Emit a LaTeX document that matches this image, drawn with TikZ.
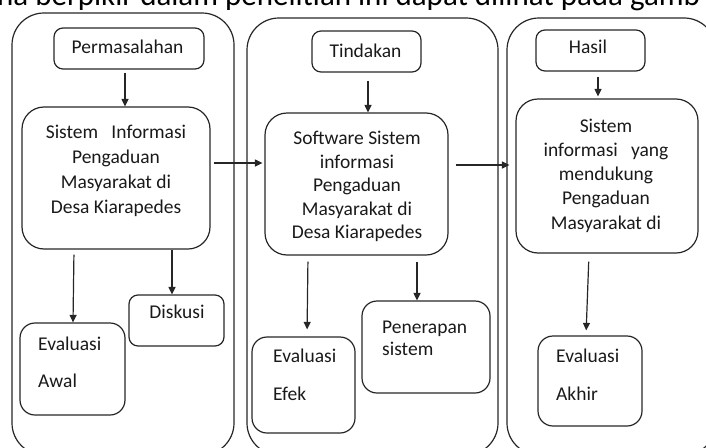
\documentclass[tikz,border=0pt]{standalone}
\usepackage{fontspec}
\setmainfont{Carlito}
\usetikzlibrary{arrows.meta}
\begin{document}
\begin{tikzpicture}[x=1pt,y=-1pt,
  ink/.style={draw=black!85, line width=1.2pt},
  container/.style={ink, rounded corners=32pt, inner sep=0pt},
  smallbox/.style={ink, rounded corners=9pt, inner sep=0pt},
  midbox/.style={ink, rounded corners=15pt, inner sep=0pt},
  bigbox/.style={ink, rounded corners=22pt, inner sep=0pt},
  txt/.style={inner sep=0pt, text=black!90, font=\fontsize{19.5}{24}\selectfont},
  flow/.style={ink, -{Triangle[length=7.5pt,width=7pt]}},
]
\useasboundingbox (0,0) rectangle (706,447);
\clip (0,0) rectangle (706,447);

% caption line cut off at the top
\node[inner sep=0pt, anchor=base west, text=black, font=\fontsize{31}{36}\selectfont] (caption) at (-3,5.5) {na berpikir dalam penelitian ini dapat dilihat pada gamb};

% columns
\node[container, minimum width=222pt, minimum height=442pt] (c1) at (123,234) {};
\node[container, minimum width=251pt, minimum height=437pt] (c2) at (372.5,236.5) {};
\node[container, minimum width=209pt, minimum height=437pt] (c3) at (611.5,236.5) {};

% headers
\node[smallbox, minimum width=150pt, minimum height=41pt] (perm) at (129,48.5) {};
\node[txt, anchor=base] (permt) at (127.5,53) {Permasalahan};
\node[smallbox, minimum width=109pt, minimum height=41pt] (tind) at (366.5,51.5) {};
\node[txt, anchor=base] (tindt) at (365.5,57) {Tindakan};
\node[smallbox, minimum width=109pt, minimum height=41pt] (hasil) at (590.5,50.5) {};
\node[txt, anchor=base] (hasilt) at (588,53) {Hasil};

% main boxes
\node[bigbox, minimum width=188pt, minimum height=142pt] (sim1) at (116,178) {};
\node[txt, align=center, font=\fontsize{19.5}{25}\selectfont] (sim1t) at (116,170.5)
  {Sistem\ \ \ Informasi\\Pengaduan\\Masyarakat di\\Desa Kiarapedes};
\node[bigbox, minimum width=183pt, minimum height=142pt] (sim2) at (356.5,184) {};
\node[txt, align=center, font=\fontsize{19.5}{23.5}\selectfont] (sim2t) at (357,186.5)
  {Software Sistem\\informasi\\Pengaduan\\Masyarakat di\\Desa Kiarapedes};
\node[bigbox, minimum width=182pt, minimum height=154pt] (sim3) at (607,176) {};
\node[txt, align=center, font=\fontsize{19.5}{24.3}\selectfont] (sim3t) at (606,175.5)
  {Sistem\\informasi\ \ \ yang\\mendukung\\Pengaduan\\Masyarakat di};

% lower boxes
\node[midbox, minimum width=105pt, minimum height=92pt] (awal) at (72.5,369) {};
\node[txt, anchor=base west] (awal1) at (38,350) {Evaluasi};
\node[txt, anchor=base west] (awal2) at (38,387) {Awal};
\node[smallbox, minimum width=95pt, minimum height=51pt] (disk) at (176.5,320.5) {};
\node[txt, anchor=base] (diskt) at (177,318) {Diskusi};
\node[midbox, minimum width=103pt, minimum height=96pt] (efek) at (303.5,385) {};
\node[txt, anchor=base west] (efek1) at (273,362) {Evaluasi};
\node[txt, anchor=base west] (efek2) at (273,400) {Efek};
\node[midbox, minimum width=128pt, minimum height=92pt] (pener) at (426,347) {};
\node[txt, anchor=base west] (pener1) at (382,333) {Penerapan};
\node[txt, anchor=base west] (pener2) at (382,355) {sistem};
\node[midbox, minimum width=104pt, minimum height=90pt] (akhir) at (590,381) {};
\node[txt, anchor=base west] (akhir1) at (556,362) {Evaluasi};
\node[txt, anchor=base west] (akhir2) at (556,400) {Akhir};

% connectors
\draw[flow, shorten <=3pt] (perm.south -| 125,0) -- (sim1.north -| 125,0);
\draw[flow, shorten <=8pt] (tind.south -| 368,0) -- (sim2.north -| 368,0);
\draw[flow, shorten <=5pt, shorten >=2pt] (hasil.south -| 598,0) -- (sim3.north -| 598,0);
\draw[flow, shorten <=3pt, shorten >=2pt] (sim1.east |- 0,163) -- (sim2.west |- 0,163);
\draw[flow, shorten <=7pt, shorten >=6pt] (sim2.east |- 0,165) -- (sim3.west |- 0,165);
\draw[flow, shorten <=5pt] (sim1.south -| 74,0) -- (awal.north -| 73,0);
\draw[flow] (sim1.south -| 172,0) -- (disk.north -| 172,0);
\draw[flow, shorten <=6pt, shorten >=7pt] (sim2.south -| 308,0) -- (efek.north -| 307,0);
\draw[flow, shorten <=6pt] (sim2.south -| 417,0) -- (pener.north -| 417,0);
\draw[flow, shorten <=8pt, shorten >=5pt] (sim3.south -| 589,0) -- (akhir.north -| 586,0);
\end{tikzpicture}
\end{document}
